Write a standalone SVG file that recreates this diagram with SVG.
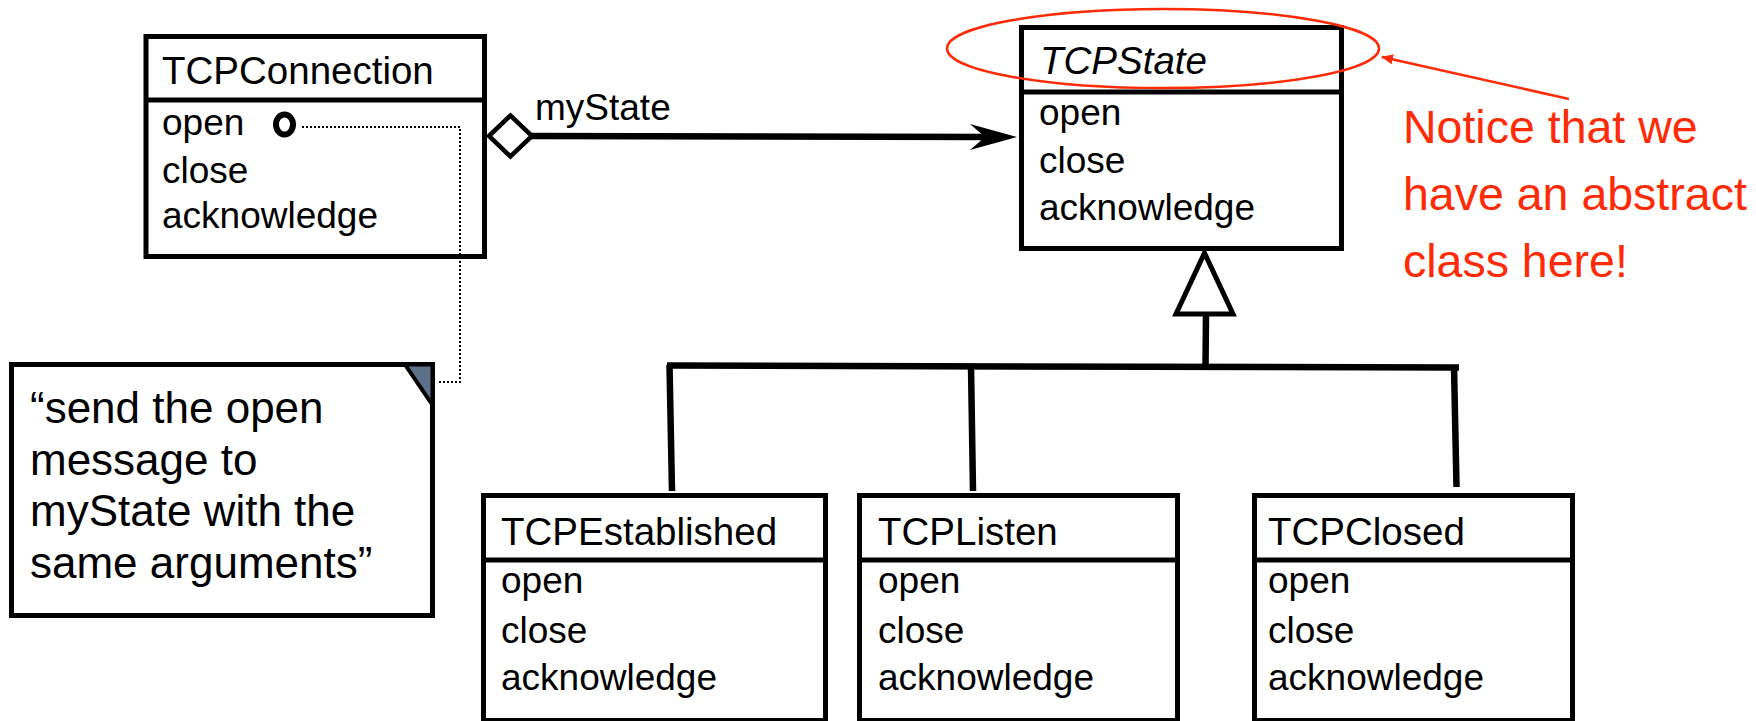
<svg xmlns="http://www.w3.org/2000/svg" width="1756" height="721" viewBox="0 0 1756 721">
  <style>
    .box { fill: #ffffff; stroke: #000000; stroke-width: 5; }
    .div { stroke: #000000; stroke-width: 5; fill: none; }
    .name { font-family: "Liberation Sans", Arial, sans-serif; font-size: 38.5px; fill: #000000; }
    .abs { font-style: italic; }
    .op { font-family: "Liberation Sans", Arial, sans-serif; font-size: 37px; fill: #000000; }
    .note { font-family: "Liberation Sans", Arial, sans-serif; font-size: 44px; fill: #000000; }
    .link { stroke: #000000; stroke-width: 6.5; fill: none; stroke-linecap: butt; }
    .dotted { stroke: #000000; stroke-width: 2; stroke-dasharray: 2 2; fill: none; }
    .remark { font-family: "Liberation Sans", Arial, sans-serif; font-size: 46.5px; fill: #ff2b06; }
  </style>
  <defs>
    <marker id="redhead" viewBox="0 0 12 10" refX="11" refY="5" markerWidth="12" markerHeight="10" markerUnits="userSpaceOnUse" orient="auto">
      <path d="M0,0 L12,5 L0,10 Z" fill="#ff2b06"/>
    </marker>
  </defs>

  <rect width="1756" height="721" fill="#ffffff"/>

  <!-- TCPConnection -->
  <g id="tcpconnection">
    <rect class="box" x="146" y="36.5" width="338.5" height="220"/>
    <line class="div" x1="146" y1="100" x2="484" y2="100"/>
    <text class="name" x="162" y="84">TCPConnection</text>
    <text class="op" x="162" y="135">open</text>
    <ellipse cx="284.5" cy="124.5" rx="8.5" ry="10" fill="none" stroke="#000000" stroke-width="6"/>
    <text class="op" x="162" y="183">close</text>
    <text class="op" x="162" y="228">acknowledge</text>
  </g>

  <!-- association label -->
  <g id="label-mystate">
    <text class="op" x="535" y="120">myState</text>
  </g>

  <!-- note -->
  <g id="note">
    <rect class="box" x="11.5" y="364.5" width="421" height="251"/>
    <path d="M405,364.5 L432.5,364.5 L432.5,405 Z" fill="#5e6f88" stroke="#000000" stroke-width="4" stroke-linejoin="miter"/>
    <text class="note" x="30" y="423">“send the open</text>
    <text class="note" x="30" y="474.5">message to</text>
    <text class="note" x="30" y="526">myState with the</text>
    <text class="note" x="30" y="577.5">same arguments”</text>
  </g>

  <!-- TCPState (abstract) -->
  <g id="tcpstate">
    <rect class="box" x="1021.5" y="27.5" width="320" height="221"/>
    <line class="div" x1="1021.5" y1="92" x2="1341.5" y2="92"/>
    <text class="name abs" x="1040" y="74">TCPState</text>
    <text class="op" x="1039" y="125">open</text>
    <text class="op" x="1039" y="173">close</text>
    <text class="op" x="1039" y="220">acknowledge</text>
  </g>

  <!-- remark -->
  <g id="remark">
    <ellipse cx="1163" cy="48.5" rx="216" ry="39.5" fill="none" stroke="#ff2b06" stroke-width="2.5"/>
    <text class="remark" x="1403" y="143">Notice that we</text>
    <text class="remark" x="1403" y="210">have an abstract</text>
    <text class="remark" x="1403" y="277">class here!</text>
  </g>

  <!-- TCPEstablished -->
  <g id="tcpestablished">
    <rect class="box" x="483.5" y="495.5" width="342" height="225"/>
    <line class="div" x1="483.5" y1="560" x2="825.5" y2="560"/>
    <text class="name" x="501" y="545">TCPEstablished</text>
    <text class="op" x="501" y="593">open</text>
    <text class="op" x="501" y="643">close</text>
    <text class="op" x="501" y="690">acknowledge</text>
  </g>

  <!-- TCPListen -->
  <g id="tcplisten">
    <rect class="box" x="859.5" y="495.5" width="318" height="225"/>
    <line class="div" x1="859.5" y1="560" x2="1177.5" y2="560"/>
    <text class="name" x="878" y="545">TCPListen</text>
    <text class="op" x="878" y="593">open</text>
    <text class="op" x="878" y="643">close</text>
    <text class="op" x="878" y="690">acknowledge</text>
  </g>

  <!-- TCPClosed -->
  <g id="tcpclosed">
    <rect class="box" x="1254.5" y="495.5" width="318" height="225"/>
    <line class="div" x1="1254.5" y1="560" x2="1572.5" y2="560"/>
    <text class="name" x="1268" y="545">TCPClosed</text>
    <text class="op" x="1268" y="593">open</text>
    <text class="op" x="1268" y="643">close</text>
    <text class="op" x="1268" y="690">acknowledge</text>
  </g>

  <!-- connectors (drawn last so they sit over the class boxes) -->
  <g id="connectors">
    <!-- dotted link from open() to the note -->
    <path class="dotted" d="M302,127 L460,127 L460,382 L437,382"/>
    <!-- aggregation: TCPConnection -> TCPState -->
    <line class="link" x1="530" y1="136" x2="990" y2="137"/>
    <path d="M1017,137 L970,124 L985,137 L970,150 Z" fill="#000000"/>
    <path d="M489,136 L510.5,115.5 L532,136 L510.5,156.5 Z" fill="#ffffff" stroke="#000000" stroke-width="4.5"/>
    <!-- generalization tree -->
    <path class="link" d="M667,365.5 L1459,367.5"/>
    <path class="link" d="M669.5,365 L672,491"/>
    <path class="link" d="M971,366 L973,491"/>
    <path class="link" d="M1454,367 L1456.5,487"/>
    <path class="link" d="M1205.5,367 L1206,314"/>
    <path d="M1204.5,253 L1233,314 L1176,314 Z" fill="#ffffff" stroke="#000000" stroke-width="5" stroke-linejoin="miter"/>
    <!-- remark pointer -->
    <line x1="1569" y1="99" x2="1382" y2="57" stroke="#ff2b06" stroke-width="2.5" marker-end="url(#redhead)"/>
  </g>
</svg>
